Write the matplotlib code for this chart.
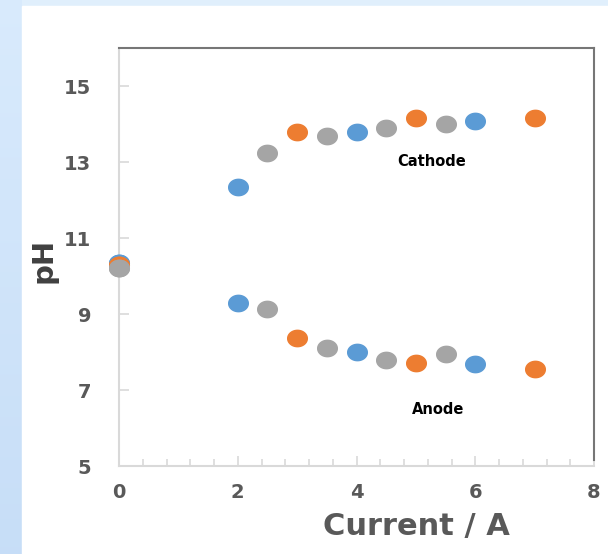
import matplotlib
matplotlib.use("Agg")
import matplotlib.pyplot as plt
import numpy as np
from matplotlib.path import Path
from matplotlib.patches import Rectangle

# data
blue_x = [0, 2, 4, 6]
blue_cathode = [10.35, 12.35, 13.8, 14.07]
blue_anode = [10.35, 9.3, 8.0, 7.68]

orange_x = [0, 3, 5, 7]
orange_cathode = [10.28, 13.8, 14.17, 14.17]
orange_anode = [10.28, 8.37, 7.72, 7.56]

gray_x = [0, 2.5, 3.5, 4.5, 5.5]
gray_cathode = [10.22, 13.23, 13.68, 13.89, 14.0]
gray_anode = [10.22, 9.14, 8.1, 7.8, 7.95]

x_ticks = [0, 2, 4, 6, 8]
y_ticks = [5, 7, 9, 11, 13, 15]

# slightly wide ellipse marker
t = np.linspace(0, 2 * np.pi, 60)
ellipse = Path(np.column_stack([1.2 * np.cos(t), np.sin(t)]), closed=True)

fig = plt.figure(figsize=(6.08, 5.54), dpi=100)

# background: light blue frame (more saturated on the left), white panel
bg = fig.add_axes([0, 0, 1, 1], zorder=-10)
img = np.ones((554, 608, 3))
top_c = np.array([0.88, 0.94, 0.99])
left_top = np.array([0.85, 0.92, 0.99])
left_bot = np.array([0.78, 0.87, 0.97])
for r in range(554):
    f = r / 553
    img[r, :, :] = top_c
    img[r, :22, :] = left_top * (1 - f) + left_bot * f
bg.imshow(img, extent=[0, 608, 0, 554], aspect="auto")
bg.add_patch(Rectangle((22, 0), 586, 548, color="white"))
bg.set_xlim(0, 608)
bg.set_ylim(0, 554)
bg.axis("off")

ax = fig.add_axes([119 / 608, 88 / 554, 475 / 608, 418 / 554])
ax.set_facecolor("white")

ax.scatter(blue_x, blue_cathode, s=200, marker=ellipse, color="#5b9bd5", zorder=3, clip_on=False)
ax.scatter(blue_x, blue_anode, s=200, marker=ellipse, color="#5b9bd5", zorder=3, clip_on=False)
ax.scatter(orange_x, orange_cathode, s=200, marker=ellipse, color="#ed7d31", zorder=4, clip_on=False)
ax.scatter(orange_x, orange_anode, s=200, marker=ellipse, color="#ed7d31", zorder=4, clip_on=False)
ax.scatter(gray_x, gray_cathode, s=200, marker=ellipse, color="#a5a5a5", zorder=5, clip_on=False)
ax.scatter(gray_x, gray_anode, s=200, marker=ellipse, color="#a5a5a5", zorder=5, clip_on=False)

ax.set_xlim(0, 8)
ax.set_ylim(5, 16)
ax.set_xticks(x_ticks)
ax.set_xticks(np.arange(0, 8.01, 0.4), minor=True)
ax.set_yticks(y_ticks)

for s in ["left", "bottom"]:
    ax.spines[s].set_color("#d9d9d9")
    ax.spines[s].set_linewidth(1.5)
for s in ["top", "right"]:
    ax.spines[s].set_color("#767676")
    ax.spines[s].set_linewidth(1.5)
ax.spines["right"].set_bounds(5.15, 16)

ax.tick_params(axis="both", which="both", direction="in", color="#d9d9d9", width=1.2)
ax.tick_params(axis="x", which="major", length=7, pad=12)
ax.tick_params(axis="x", which="minor", length=5)
ax.tick_params(axis="y", which="major", length=7, pad=20)
for lab in ax.get_xticklabels() + ax.get_yticklabels():
    lab.set_fontsize(14)
    lab.set_fontweight("bold")
    lab.set_color("#595959")

ax.text(5.27, 13.0, "Cathode", fontsize=10.5, fontweight="bold", ha="center", va="center")
ax.text(5.37, 6.48, "Anode", fontsize=10.5, fontweight="bold", ha="center", va="center")

fig.text(44 / 608, 1 - 260 / 554, "pH", rotation=90, fontsize=21, fontweight="bold",
         color="#404040", ha="center", va="center")
fig.text(416 / 608, 1 - 526 / 554, "Current / A", fontsize=22, fontweight="bold",
         color="#595959", ha="center", va="center")

fig.savefig("out.png", dpi=100)
